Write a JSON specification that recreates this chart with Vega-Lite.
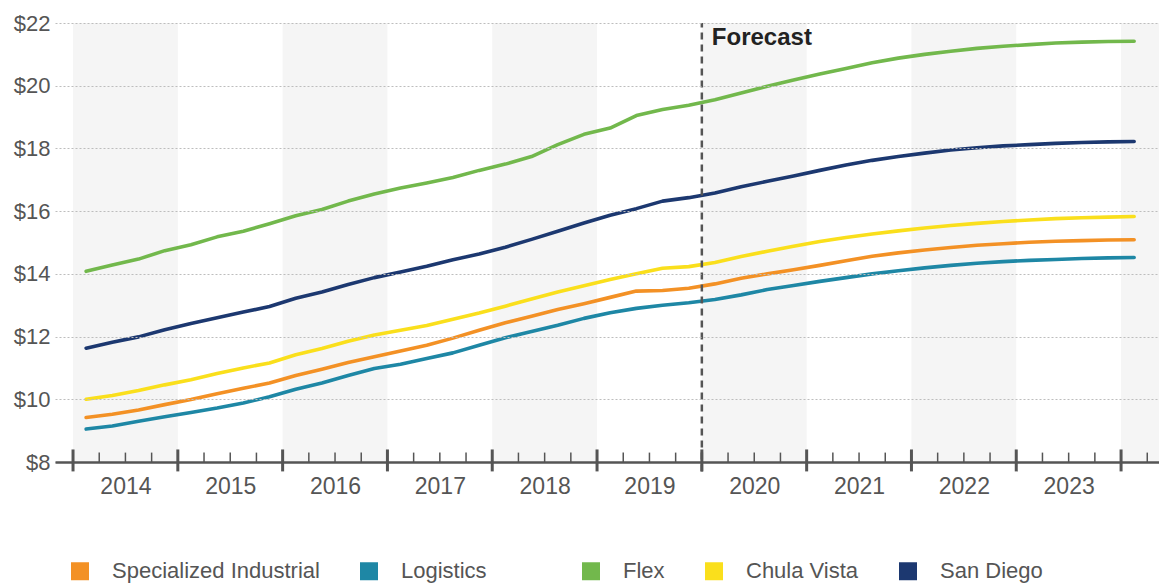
{
  "$schema": "https://vega.github.io/schema/vega-lite/v6.json",
  "width": 1104,
  "height": 439,
  "autosize": {"type": "none"},
  "padding": {"left": 55, "top": 23, "right": 0, "bottom": 122},
  "background": "white",
  "config": {"font": "Liberation Sans", "view": {"stroke": null}},
  "datasets": {
    "rents": [
      {"t": 2014.125, "Specialized Industrial": 9.42, "Logistics": 9.05, "Flex": 14.08, "Chula Vista": 10.00, "San Diego": 11.63},
      {"t": 2014.375, "Specialized Industrial": 9.52, "Logistics": 9.15, "Flex": 14.28, "Chula Vista": 10.12, "San Diego": 11.82},
      {"t": 2014.625, "Specialized Industrial": 9.66, "Logistics": 9.30, "Flex": 14.47, "Chula Vista": 10.28, "San Diego": 11.99},
      {"t": 2014.875, "Specialized Industrial": 9.83, "Logistics": 9.44, "Flex": 14.74, "Chula Vista": 10.46, "San Diego": 12.22},
      {"t": 2015.125, "Specialized Industrial": 9.99, "Logistics": 9.58, "Flex": 14.93, "Chula Vista": 10.62, "San Diego": 12.42},
      {"t": 2015.375, "Specialized Industrial": 10.18, "Logistics": 9.72, "Flex": 15.18, "Chula Vista": 10.82, "San Diego": 12.60},
      {"t": 2015.625, "Specialized Industrial": 10.35, "Logistics": 9.88, "Flex": 15.36, "Chula Vista": 11.00, "San Diego": 12.78},
      {"t": 2015.875, "Specialized Industrial": 10.52, "Logistics": 10.08, "Flex": 15.60, "Chula Vista": 11.16, "San Diego": 12.96},
      {"t": 2016.125, "Specialized Industrial": 10.76, "Logistics": 10.32, "Flex": 15.85, "Chula Vista": 11.42, "San Diego": 13.22},
      {"t": 2016.375, "Specialized Industrial": 10.96, "Logistics": 10.52, "Flex": 16.05, "Chula Vista": 11.62, "San Diego": 13.42},
      {"t": 2016.625, "Specialized Industrial": 11.17, "Logistics": 10.76, "Flex": 16.32, "Chula Vista": 11.85, "San Diego": 13.66},
      {"t": 2016.875, "Specialized Industrial": 11.36, "Logistics": 10.98, "Flex": 16.55, "Chula Vista": 12.05, "San Diego": 13.88},
      {"t": 2017.125, "Specialized Industrial": 11.54, "Logistics": 11.12, "Flex": 16.74, "Chula Vista": 12.20, "San Diego": 14.06},
      {"t": 2017.375, "Specialized Industrial": 11.72, "Logistics": 11.30, "Flex": 16.90, "Chula Vista": 12.35, "San Diego": 14.24},
      {"t": 2017.625, "Specialized Industrial": 11.95, "Logistics": 11.48, "Flex": 17.07, "Chula Vista": 12.55, "San Diego": 14.45},
      {"t": 2017.875, "Specialized Industrial": 12.20, "Logistics": 11.72, "Flex": 17.30, "Chula Vista": 12.75, "San Diego": 14.63},
      {"t": 2018.125, "Specialized Industrial": 12.44, "Logistics": 11.96, "Flex": 17.50, "Chula Vista": 12.97, "San Diego": 14.85},
      {"t": 2018.375, "Specialized Industrial": 12.65, "Logistics": 12.16, "Flex": 17.74, "Chula Vista": 13.20, "San Diego": 15.10},
      {"t": 2018.625, "Specialized Industrial": 12.86, "Logistics": 12.36, "Flex": 18.12, "Chula Vista": 13.42, "San Diego": 15.36},
      {"t": 2018.875, "Specialized Industrial": 13.05, "Logistics": 12.58, "Flex": 18.45, "Chula Vista": 13.62, "San Diego": 15.62},
      {"t": 2019.125, "Specialized Industrial": 13.25, "Logistics": 12.76, "Flex": 18.65, "Chula Vista": 13.82, "San Diego": 15.87},
      {"t": 2019.375, "Specialized Industrial": 13.45, "Logistics": 12.90, "Flex": 19.05, "Chula Vista": 14.00, "San Diego": 16.08},
      {"t": 2019.625, "Specialized Industrial": 13.47, "Logistics": 13.00, "Flex": 19.24, "Chula Vista": 14.18, "San Diego": 16.32},
      {"t": 2019.875, "Specialized Industrial": 13.54, "Logistics": 13.08, "Flex": 19.38, "Chula Vista": 14.23, "San Diego": 16.43},
      {"t": 2020.125, "Specialized Industrial": 13.68, "Logistics": 13.18, "Flex": 19.55, "Chula Vista": 14.36, "San Diego": 16.58},
      {"t": 2020.375, "Specialized Industrial": 13.86, "Logistics": 13.33, "Flex": 19.77, "Chula Vista": 14.55, "San Diego": 16.78},
      {"t": 2020.625, "Specialized Industrial": 14.00, "Logistics": 13.50, "Flex": 19.98, "Chula Vista": 14.72, "San Diego": 16.95},
      {"t": 2020.875, "Specialized Industrial": 14.13, "Logistics": 13.63, "Flex": 20.18, "Chula Vista": 14.88, "San Diego": 17.12},
      {"t": 2021.125, "Specialized Industrial": 14.27, "Logistics": 13.76, "Flex": 20.37, "Chula Vista": 15.03, "San Diego": 17.30},
      {"t": 2021.375, "Specialized Industrial": 14.42, "Logistics": 13.88, "Flex": 20.55, "Chula Vista": 15.16, "San Diego": 17.47},
      {"t": 2021.625, "Specialized Industrial": 14.56, "Logistics": 14.00, "Flex": 20.73, "Chula Vista": 15.27, "San Diego": 17.62},
      {"t": 2021.875, "Specialized Industrial": 14.67, "Logistics": 14.10, "Flex": 20.88, "Chula Vista": 15.37, "San Diego": 17.74},
      {"t": 2022.125, "Specialized Industrial": 14.76, "Logistics": 14.19, "Flex": 21.00, "Chula Vista": 15.46, "San Diego": 17.85},
      {"t": 2022.375, "Specialized Industrial": 14.84, "Logistics": 14.27, "Flex": 21.10, "Chula Vista": 15.54, "San Diego": 17.95},
      {"t": 2022.625, "Specialized Industrial": 14.91, "Logistics": 14.34, "Flex": 21.19, "Chula Vista": 15.61, "San Diego": 18.02},
      {"t": 2022.875, "Specialized Industrial": 14.96, "Logistics": 14.39, "Flex": 21.26, "Chula Vista": 15.67, "San Diego": 18.08},
      {"t": 2023.125, "Specialized Industrial": 15.01, "Logistics": 14.43, "Flex": 21.31, "Chula Vista": 15.72, "San Diego": 18.12},
      {"t": 2023.375, "Specialized Industrial": 15.04, "Logistics": 14.46, "Flex": 21.36, "Chula Vista": 15.76, "San Diego": 18.16},
      {"t": 2023.625, "Specialized Industrial": 15.06, "Logistics": 14.49, "Flex": 21.39, "Chula Vista": 15.79, "San Diego": 18.19},
      {"t": 2023.875, "Specialized Industrial": 15.08, "Logistics": 14.51, "Flex": 21.41, "Chula Vista": 15.81, "San Diego": 18.21},
      {"t": 2024.125, "Specialized Industrial": 15.09, "Logistics": 14.52, "Flex": 21.42, "Chula Vista": 15.83, "San Diego": 18.22}
    ],
    "bands": [
      {"start": 2014, "end": 2015},
      {"start": 2016, "end": 2017},
      {"start": 2018, "end": 2019},
      {"start": 2020, "end": 2021},
      {"start": 2022, "end": 2023},
      {"start": 2024, "end": 2025}
    ],
    "major": [
      {"t": 2014}, {"t": 2015}, {"t": 2016}, {"t": 2017}, {"t": 2018}, {"t": 2019},
      {"t": 2020}, {"t": 2021}, {"t": 2022}, {"t": 2023}, {"t": 2024}
    ],
    "minor": [
      {"t": 2014.25}, {"t": 2014.5}, {"t": 2014.75},
      {"t": 2015.25}, {"t": 2015.5}, {"t": 2015.75},
      {"t": 2016.25}, {"t": 2016.5}, {"t": 2016.75},
      {"t": 2017.25}, {"t": 2017.5}, {"t": 2017.75},
      {"t": 2018.25}, {"t": 2018.5}, {"t": 2018.75},
      {"t": 2019.25}, {"t": 2019.5}, {"t": 2019.75},
      {"t": 2020.25}, {"t": 2020.5}, {"t": 2020.75},
      {"t": 2021.25}, {"t": 2021.5}, {"t": 2021.75},
      {"t": 2022.25}, {"t": 2022.5}, {"t": 2022.75},
      {"t": 2023.25}, {"t": 2023.5}, {"t": 2023.75},
      {"t": 2024.25}
    ],
    "notes": [{"t": 2020, "v": 22, "label": "Forecast"}]
  },
  "resolve": {"scale": {"color": "independent"}, "legend": {"color": "independent"}},
  "layer": [
    {
      "data": {"name": "bands"},
      "mark": {"type": "rect", "color": "#f5f5f5", "clip": true},
      "encoding": {
        "x": {"field": "start", "type": "quantitative", "title": null, "scale": {"domain": [2013.828, 2024.362], "nice": false, "zero": false}},
        "x2": {"field": "end"}
      }
    },
    {
      "data": {"name": "rents"},
      "transform": [
        {"fold": ["Specialized Industrial", "Logistics", "Flex", "Chula Vista", "San Diego"], "as": ["series", "rent"]},
        {"filter": {"field": "series", "oneOf": ["Specialized Industrial", "Logistics"]}}
      ],
      "mark": {"type": "line", "strokeWidth": 3.6, "strokeCap": "round", "strokeJoin": "round"},
      "encoding": {
        "x": {
          "field": "t", "type": "quantitative", "title": null,
          "scale": {"domain": [2013.828, 2024.362], "nice": false, "zero": false},
          "axis": {
            "orient": "bottom",
            "values": [2014.5, 2015.5, 2016.5, 2017.5, 2018.5, 2019.5, 2020.5, 2021.5, 2022.5, 2023.5],
            "labelExpr": "'' + floor(datum.value)",
            "title": null, "ticks": false, "tickSize": 0, "grid": false,
            "domainColor": "#555555", "domainWidth": 2.5,
            "labelFontSize": 23, "labelColor": "#555555", "labelPadding": 13,
            "labelFlush": false, "labelOverlap": false, "zindex": 1
          }
        },
        "y": {
          "field": "rent", "type": "quantitative", "title": null,
          "scale": {"domain": [8, 22], "nice": false, "zero": false},
          "axis": {
            "orient": "left",
            "values": [8, 10, 12, 14, 16, 18, 20, 22],
            "labelExpr": "'$' + datum.value",
            "title": null, "domain": false, "ticks": false,
            "grid": true, "gridColor": "#bdbdbd", "gridDash": [2, 2], "gridWidth": 1.2,
            "labelFontSize": 22, "labelColor": "#555555", "labelPadding": 5, "zindex": 1
          }
        },
        "color": {
          "field": "series", "type": "nominal",
          "scale": {
            "domain": ["Specialized Industrial", "Logistics"],
            "range": ["#f39125", "#1e87a5"]
          },
          "legend": {
            "orient": "none", "legendX": 14, "legendY": 537,
            "direction": "horizontal", "columns": 2, "title": null,
            "symbolType": "square", "symbolSize": 1, "symbolStrokeWidth": 17,
            "labelFontSize": 22, "labelColor": "#555555", "labelLimit": 400,
            "labelOffset": 21, "columnPadding": 14
          }
        }
      }
    },
    {
      "data": {"name": "rents"},
      "transform": [
        {"fold": ["Specialized Industrial", "Logistics", "Flex", "Chula Vista", "San Diego"], "as": ["series", "rent"]},
        {"filter": {"field": "series", "oneOf": ["Flex", "Chula Vista", "San Diego"]}}
      ],
      "mark": {"type": "line", "strokeWidth": 3.6, "strokeCap": "round", "strokeJoin": "round"},
      "encoding": {
        "x": {"field": "t", "type": "quantitative", "title": null},
        "y": {"field": "rent", "type": "quantitative", "title": null},
        "color": {
          "field": "series", "type": "nominal",
          "scale": {
            "domain": ["Flex", "Chula Vista", "San Diego"],
            "range": ["#72b84c", "#fadf1c", "#1c3870"]
          },
          "legend": {
            "orient": "none", "legendX": 525, "legendY": 537,
            "direction": "horizontal", "columns": 3, "title": null,
            "symbolType": "square", "symbolSize": 1, "symbolStrokeWidth": 17,
            "labelFontSize": 22, "labelColor": "#555555", "labelLimit": 400,
            "labelOffset": 21, "columnPadding": 14
          }
        }
      }
    },
    {
      "data": {"name": "major"},
      "mark": {"type": "rule", "color": "#555555", "strokeWidth": 3},
      "encoding": {
        "x": {"field": "t", "type": "quantitative", "title": null},
        "y": {"datum": 7.7, "type": "quantitative", "title": null},
        "y2": {"datum": 8.4}
      }
    },
    {
      "data": {"name": "minor"},
      "mark": {"type": "rule", "color": "#555555", "strokeWidth": 1.5},
      "encoding": {
        "x": {"field": "t", "type": "quantitative", "title": null},
        "y": {"datum": 8, "type": "quantitative", "title": null},
        "y2": {"datum": 8.3}
      }
    },
    {
      "data": {"name": "notes"},
      "mark": {"type": "rule", "color": "#555555", "strokeWidth": 2.5, "strokeDash": [7, 5]},
      "encoding": {
        "x": {"field": "t", "type": "quantitative", "title": null},
        "y": {"datum": 7.7, "type": "quantitative", "title": null},
        "y2": {"datum": 22}
      }
    },
    {
      "data": {"name": "notes"},
      "mark": {"type": "text", "align": "left", "baseline": "top", "dx": 10, "dy": 3, "fontSize": 24, "fontWeight": "bold", "color": "#222222"},
      "encoding": {
        "x": {"field": "t", "type": "quantitative", "title": null},
        "y": {"field": "v", "type": "quantitative", "title": null},
        "text": {"field": "label"}
      }
    }
  ]
}
